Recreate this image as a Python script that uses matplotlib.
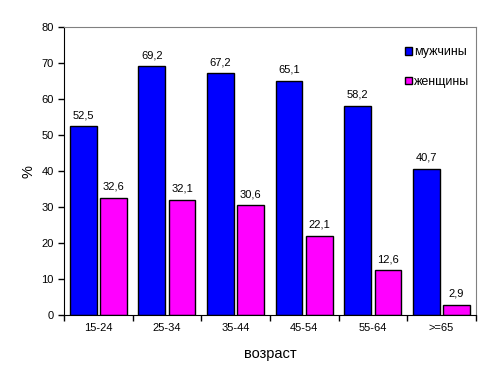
import matplotlib
matplotlib.use("Agg")
import matplotlib.pyplot as plt
from matplotlib.patches import Rectangle
import numpy as np

plt.rcParams['font.family'] = ['Liberation Sans', 'DejaVu Sans']

ages = ["15-24", "25-34", "35-44", "45-54", "55-64", ">=65"]
men = [52.5, 69.2, 67.2, 65.1, 58.2, 40.7]
women = [32.6, 32.1, 30.6, 22.1, 12.6, 2.9]
series = ["мужчины", "женщины"]

fig = plt.figure(figsize=(4.88, 3.92), dpi=100)
ax = fig.add_axes([0.131, 0.196, 0.844, 0.735])

x = np.arange(len(ages))
w = 0.39
b1 = ax.bar(x - 0.22, men, w, color="#0000FF", edgecolor="black", linewidth=1)
b2 = ax.bar(x + 0.22, women, w, color="#FF00FF", edgecolor="black", linewidth=1)

for bars, vals in [(b1, men), (b2, women)]:
    for r, v in zip(bars, vals):
        ax.text(r.get_x() + r.get_width() / 2, v + 1.6, f"{v:.1f}".replace(".", ","),
                ha="center", va="bottom", fontsize=8)

ax.set_xlim(-0.5, len(ages) - 0.5)
ax.set_ylim(0, 80)
ax.set_yticks(range(0, 81, 10))
ax.set_xticks(x)
ax.set_xticklabels(ages, fontsize=8)
ax.set_xticks(np.arange(-0.5, len(ages), 1), minor=True)
ax.tick_params(axis="x", which="major", length=0, pad=5.5)
ax.tick_params(axis="x", which="minor", length=4, direction="out", width=1)
ax.tick_params(axis="y", labelsize=8, length=4, width=1)

for s in ["top", "right"]:
    ax.spines[s].set_color("#808080")
for s in ["left", "bottom"]:
    ax.spines[s].set_color("black")

ax.set_ylabel("%", fontsize=10.5, va="center")
ax.yaxis.set_label_coords(-0.087, 0.5)
ax.set_xlabel("возраст", fontsize=10.5, va="center")
ax.xaxis.set_label_coords(0.5, -0.135)

handles = [Rectangle((0, 0), 1, 1, facecolor=c, edgecolor="black") for c in ["#0000FF", "#FF00FF"]]
ax.legend(handles, series, loc="upper left", bbox_to_anchor=(0.80, 0.972), frameon=False,
          fontsize=9, handlelength=0.55, handleheight=0.55, handletextpad=0.2, labelspacing=1.4)

fig.savefig("out.png", dpi=100)
